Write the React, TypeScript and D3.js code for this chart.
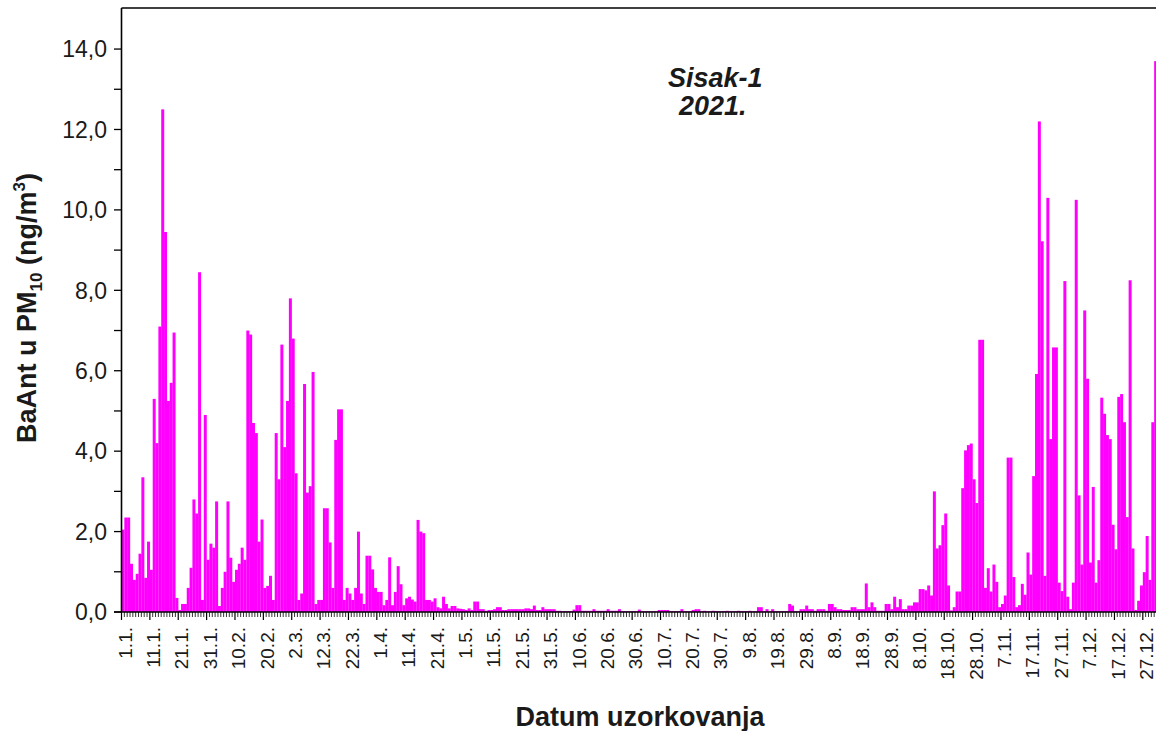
import React from 'react';
import * as d3 from 'd3';

// Daily BaAnt in PM10 (ng/m3), Sisak-1, 2021 — one array per month
const jan = [2.05, 2.35, 2.35, 1.2, 0.8, 0.95, 1.45, 3.35, 0.85, 1.75, 1.05, 5.3, 4.2, 7.1, 12.5, 9.45, 5.25, 5.7, 6.95, 0.35, 0.05, 0.2, 0.2, 0.6, 1.1, 2.8, 2.45, 8.45, 0.3, 4.9, 1.3];
const feb = [1.7, 1.6, 2.75, 0.15, 0.6, 1.0, 2.75, 1.35, 0.75, 1.05, 1.2, 1.6, 1.3, 7.0, 6.9, 4.7, 4.45, 1.75, 2.3, 0.6, 0.65, 0.9, 0.3, 4.45, 3.3, 6.65, 4.1, 5.25];
const mar = [7.8, 6.8, 3.45, 0.3, 0.46, 5.67, 2.97, 3.13, 5.97, 0.2, 0.3, 0.3, 2.58, 2.58, 1.73, 0.6, 4.28, 5.04, 5.04, 0.3, 0.6, 0.46, 0.3, 0.6, 2.0, 0.46, 0.2, 1.4, 1.4, 1.06, 0.6];
const apr = [0.5, 0.5, 0.17, 0.3, 1.36, 0.17, 0.5, 1.14, 0.69, 0.17, 0.34, 0.38, 0.31, 0.26, 2.29, 2.0, 1.96, 0.3, 0.3, 0.26, 0.34, 0.12, 0.09, 0.38, 0.2, 0.09, 0.15, 0.15, 0.09, 0.08];
const may = [0.07, 0.05, 0.09, 0.05, 0.26, 0.26, 0.07, 0.07, 0.03, 0.05, 0.05, 0.07, 0.12, 0.12, 0.05, 0.05, 0.07, 0.07, 0.07, 0.07, 0.07, 0.07, 0.09, 0.09, 0.07, 0.16, 0.05, 0.05, 0.12, 0.07, 0.07];
const jun = [0.07, 0.07, 0.03, 0.03, 0.02, 0.02, 0.02, 0.02, 0.06, 0.17, 0.17, 0.03, 0.03, 0.03, 0.03, 0.07, 0.03, 0.03, 0.03, 0.03, 0.07, 0.03, 0.03, 0.03, 0.07, 0.02, 0.02, 0.02, 0.02, 0.02];
const jul = [0.02, 0.06, 0.02, 0.02, 0.02, 0.02, 0.02, 0.02, 0.05, 0.05, 0.05, 0.05, 0.02, 0.02, 0.02, 0.02, 0.07, 0.02, 0.02, 0.02, 0.05, 0.07, 0.07, 0.02, 0.03, 0.02, 0.02, 0.03, 0.02, 0.02, 0.02];
const aug = [0.02, 0.03, 0.02, 0.02, 0.02, 0.03, 0.02, 0.02, 0.02, 0.03, 0.02, 0.02, 0.12, 0.12, 0.02, 0.07, 0.02, 0.07, 0.02, 0.02, 0.02, 0.02, 0.02, 0.2, 0.16, 0.02, 0.02, 0.07, 0.07, 0.16, 0.07];
const sep = [0.07, 0.03, 0.07, 0.07, 0.07, 0.03, 0.2, 0.2, 0.12, 0.07, 0.07, 0.05, 0.05, 0.05, 0.12, 0.12, 0.07, 0.07, 0.07, 0.71, 0.12, 0.24, 0.12, 0.03, 0.03, 0.03, 0.2, 0.2, 0.07, 0.38];
const oct = [0.12, 0.32, 0.07, 0.07, 0.16, 0.16, 0.24, 0.24, 0.57, 0.57, 0.54, 0.66, 0.41, 3.0, 1.58, 1.66, 2.16, 2.45, 0.66, 0.04, 0.12, 0.51, 0.51, 3.08, 4.02, 4.15, 4.19, 3.3, 2.71, 6.77, 6.77];
const nov = [0.6, 1.09, 0.51, 1.18, 0.75, 0.12, 0.2, 0.41, 3.84, 3.84, 0.87, 0.12, 0.17, 0.7, 0.43, 1.48, 0.93, 3.38, 5.92, 12.2, 9.22, 0.9, 10.3, 4.3, 6.58, 6.58, 0.73, 0.52, 8.23, 0.38];
const dec = [0.07, 0.73, 10.25, 2.9, 1.18, 7.5, 5.8, 1.23, 3.11, 0.73, 1.29, 5.33, 4.93, 4.4, 4.3, 2.17, 1.56, 5.35, 5.42, 4.72, 2.36, 8.25, 1.58, 0.05, 0.28, 0.66, 0.99, 1.89, 0.8, 4.72, 13.7];

const values: number[] = [...jan, ...feb, ...mar, ...apr, ...may, ...jun, ...jul, ...aug, ...sep, ...oct, ...nov, ...dec];

const xTickLabels = ['1.1.', '11.1.', '21.1.', '31.1.', '10.2.', '20.2.', '2.3.', '12.3.', '22.3.', '1.4.', '11.4.', '21.4.', '1.5.', '11.5.', '21.5.', '31.5.', '10.6.', '20.6.', '30.6.', '10.7.', '20.7.', '30.7.', '9.8.', '19.8.', '29.8.', '8.9.', '18.9.', '28.9.', '8.10.', '18.10.', '28.10.', '7.11.', '17.11.', '27.11.', '7.12.', '17.12.', '27.12.'];
const yTickValues = [0, 2, 4, 6, 8, 10, 12, 14];

const FONT = "Arial, 'Liberation Sans', sans-serif";

export default function App() {
  const W = 1156;
  const H = 731;
  const left = 121.5;
  const bottom = 612;
  const top = 8;
  const x = d3.scaleLinear().domain([0, 365]).range([left, 1157]);
  const y = d3.scaleLinear().domain([0, 15]).range([bottom, bottom - 15 * 40.21]);
  const bw = x(1) - x(0);
  const minorY = d3.range(0, 15, 1);
  const dayTicks = d3.range(0, 366, 1);

  return (
    <svg width={W} height={H} style={{ position: 'absolute', left: 0, top: 0, background: '#fff' }} fontFamily={FONT}>
      <rect x={0} y={0} width={W} height={H} fill="#fff" />
      {/* bars */}
      <g fill="#ff00ff">
        {values.map((v, i) => (
          <rect key={i} x={x(i)} y={y(v)} width={bw + 0.15} height={bottom - y(v)} />
        ))}
      </g>
      {/* frame */}
      <line x1={left} x2={left} y1={top} y2={bottom} stroke="#000" strokeWidth={1.6} />
      <line x1={left} x2={W} y1={top} y2={top} stroke="#000" strokeWidth={1.6} />
      <line x1={114} x2={W} y1={bottom} y2={bottom} stroke="#000" strokeWidth={1.6} />
      {/* y ticks */}
      {minorY.map((v) => (
        <line key={'yt' + v} x1={114} x2={left} y1={y(v)} y2={y(v)} stroke="#000" strokeWidth={1.3} />
      ))}
      {yTickValues.map((v) => (
        <text key={'yl' + v} x={107} y={y(v)} dy="0.36em" textAnchor="end" fontSize={23} fill="#1a1a1a">
          {v.toFixed(1).replace('.', ',')}
        </text>
      ))}
      {/* x ticks */}
      {dayTicks.map((d) => (
        <line key={'xt' + d} x1={x(d)} x2={x(d)} y1={bottom} y2={bottom + (d % 10 === 0 ? 8 : 5)} stroke="#000" strokeWidth={d % 10 === 0 ? 1.2 : 0.8} />
      ))}
      {xTickLabels.map((lab, k) => {
        const cx = x(k * 10) + 3.5;
        return (
          <text key={'xl' + k} transform={`translate(${cx},627) rotate(-90)`} dy="0.35em" textAnchor="end" fontSize={19} fill="#1a1a1a">
            {lab}
          </text>
        );
      })}
      {/* axis titles */}
      <text x={640} y={726} textAnchor="middle" fontSize={27} fontWeight="bold" fill="#1a1a1a">Datum uzorkovanja</text>
      <text transform="translate(36,308) rotate(-90)" textAnchor="middle" fontSize={27} fontWeight="bold" fill="#1a1a1a">
        <tspan>BaAnt u PM</tspan>
        <tspan fontSize={17} dy={6}>10</tspan>
        <tspan dy={-6}> (ng/m</tspan>
        <tspan fontSize={17} dy={-11}>3</tspan>
        <tspan dy={11}>)</tspan>
      </text>
      {/* annotation */}
      <text x={668} y={87} fontSize={27} fontWeight="bold" fontStyle="italic" fill="#1a1a1a">Sisak-1</text>
      <text x={679} y={115} fontSize={27} fontWeight="bold" fontStyle="italic" fill="#1a1a1a">2021.</text>
    </svg>
  );
}
